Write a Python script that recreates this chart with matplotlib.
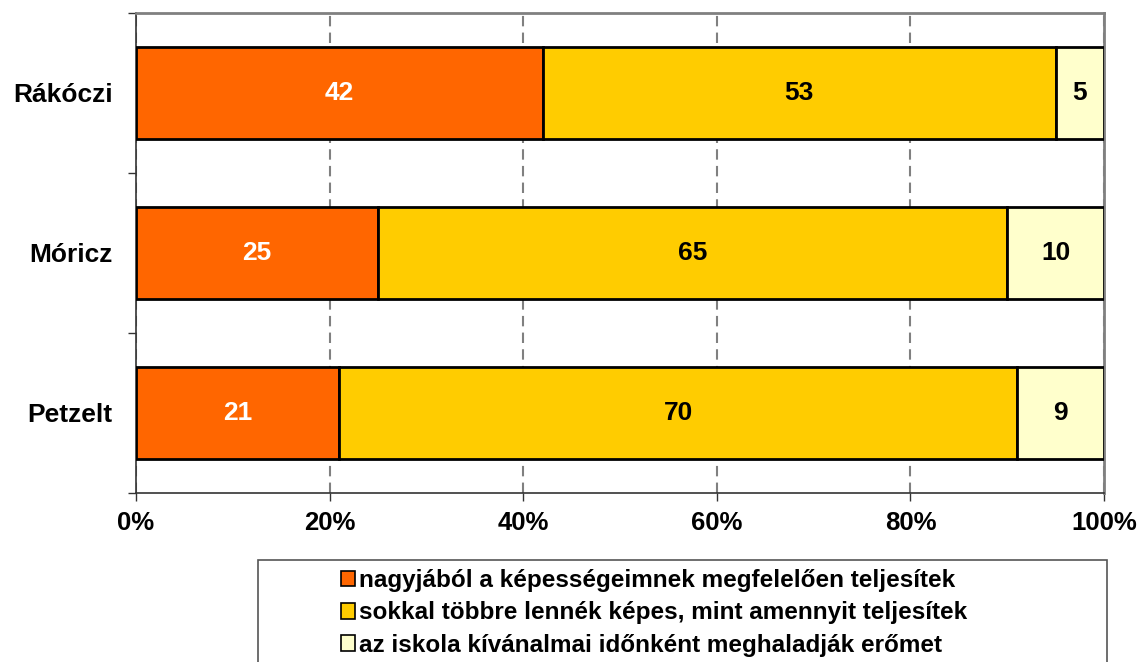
import numpy as np
import matplotlib
matplotlib.use("Agg")
from matplotlib import pyplot as plt
from matplotlib.patches import Rectangle, Patch
from matplotlib import font_manager

schools = ["Rákóczi", "Móricz", "Petzelt"]
ok_vals = [42, 25, 21]
more_vals = [53, 65, 70]
hard_vals = [5, 10, 9]
series_names = [
    "nagyjából a képességeimnek megfelelően teljesítek",
    "sokkal többre lennék képes, mint amennyit teljesítek",
    "az iskola kívánalmai időnként meghaladják erőmet",
]
COLORS = ["#FF6600", "#FFCC00", "#FFFFCC"]
TEXT_COLORS = ["white", "black", "black"]

names = {f.name for f in font_manager.fontManager.ttflist}
narrow = "Liberation Sans Narrow" if "Liberation Sans Narrow" in names else "Liberation Sans"

plt.rcParams["font.family"] = ["Liberation Sans", "DejaVu Sans"]

fig = plt.figure(figsize=(11.4, 6.62), dpi=100)
ax = fig.add_axes([136 / 1140, 1 - 493 / 662, (1104 - 136) / 1140, (493 - 13) / 662])

y = np.arange(len(schools))
left = np.zeros(len(schools))
for vals, color, tcol in zip([ok_vals, more_vals, hard_vals], COLORS, TEXT_COLORS):
    ax.barh(y, vals, left=left, height=0.58, color=color, edgecolor="black",
            linewidth=2, zorder=3)
    for yi, l, v in zip(y, left, vals):
        ax.text(l + v / 2, yi, str(v), ha="center", va="center", color=tcol,
                fontsize=19, fontweight="bold", zorder=4)
    left = left + np.array(vals)

ax.set_xlim(0, 100)
ax.set_ylim(2.5, -0.5)
ax.set_xticks(np.arange(0, 101, 20))
ax.set_xticklabels([f"{v}%" for v in range(0, 101, 20)], fontsize=18.5, fontweight="bold")
ax.set_yticks(y)
ax.set_yticklabels(schools, fontsize=19, fontweight="bold")
ax.set_yticks([-0.5, 0.5, 1.5, 2.5], minor=True)
ax.tick_params(axis="y", which="major", length=0, pad=17)
ax.tick_params(axis="y", which="minor", length=6, width=1, color="#333333")
ax.tick_params(axis="x", length=6, width=1, color="#333333", pad=7)

ax.grid(axis="x", color="#808080", linestyle=(0, (5, 3)), linewidth=1.5, zorder=1)
for s in ["top", "right"]:
    ax.spines[s].set_color("#808080")
    ax.spines[s].set_linewidth(2)
for s in ["left", "bottom"]:
    ax.spines[s].set_color("#333333")
    ax.spines[s].set_linewidth(1.2)

# legend box runs off the bottom of the figure
fig.patches.append(Rectangle((258 / 1140, -0.05), (1107 - 258) / 1140, 0.05 + 1 - 560 / 662,
                             transform=fig.transFigure, facecolor="white",
                             edgecolor="#555555", linewidth=1.2, clip_on=False))
handles = [Patch(facecolor=c, edgecolor="black", linewidth=1.2) for c in COLORS]
fig.legend(handles, series_names, loc="upper left",
           bbox_to_anchor=(329 / 1140, 1 - 557 / 662), frameon=False,
           prop={"family": narrow, "weight": "bold", "size": 17.5},
           handlelength=0.55, handleheight=0.6, handletextpad=0.2,
           labelspacing=0.38, borderpad=0)

fig.savefig("out.png", dpi=100)
